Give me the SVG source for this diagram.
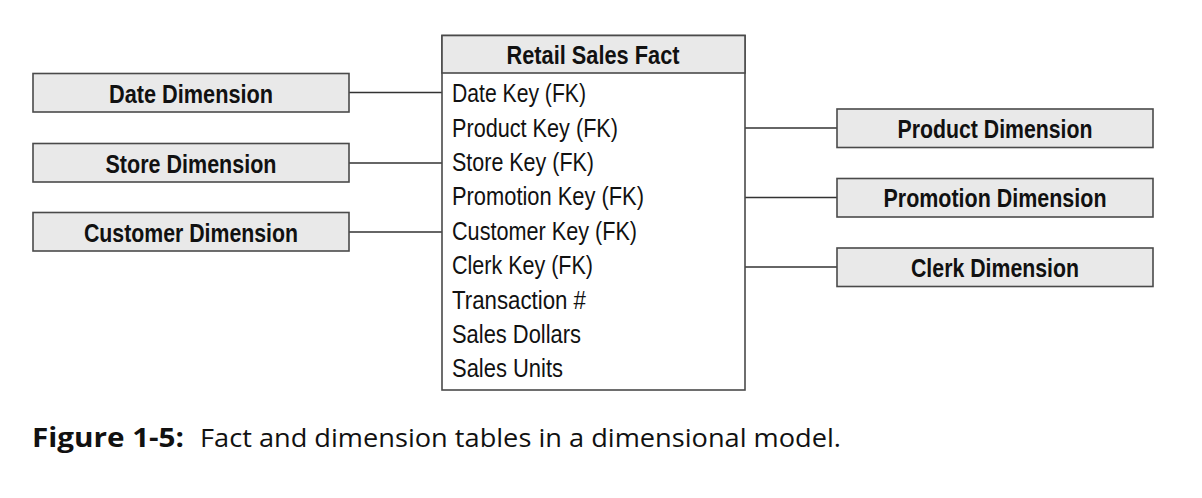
<svg xmlns="http://www.w3.org/2000/svg" width="1202" height="498" viewBox="0 0 1202 498">
<style>
.box{fill:#e9e9e9;stroke:#4a4a4a;stroke-width:1.6}
.fact{fill:#ffffff;stroke:#4a4a4a;stroke-width:1.6}
.lbl{font-family:"Liberation Sans Narrow","Liberation Sans",Arial,sans-serif;font-weight:bold;font-size:25px;fill:#111111;text-anchor:middle}
.row{font-family:"Liberation Sans Narrow","Liberation Sans",Arial,sans-serif;font-size:25.8px;fill:#111111}
.conn{stroke:#333;stroke-width:1.6;fill:none}
.cap{font-family:"Open Sans","Noto Sans",sans-serif;font-size:26px;fill:#111111}
</style>
<rect width="1202" height="498" fill="#ffffff"/>
<g id="connectors">
<line class="conn" x1="349" y1="92.5" x2="442" y2="92.5"/>
<line class="conn" x1="349" y1="163" x2="442" y2="163"/>
<line class="conn" x1="349" y1="232" x2="442" y2="232"/>
<line class="conn" x1="745" y1="128" x2="837" y2="128"/>
<line class="conn" x1="745" y1="197.5" x2="837" y2="197.5"/>
<line class="conn" x1="745" y1="267" x2="837" y2="267"/>
</g>
<g id="fact">
<rect class="fact" x="442" y="35.5" width="303" height="354.5"/>
<rect class="box" x="442" y="35.5" width="303" height="37.5"/>
<text class="lbl" x="593" y="64" textLength="173" lengthAdjust="spacingAndGlyphs">Retail Sales Fact</text>
<text class="row" x="452" y="102.3" textLength="134" lengthAdjust="spacingAndGlyphs">Date Key (FK)</text>
<text class="row" x="452" y="136.7" textLength="166" lengthAdjust="spacingAndGlyphs">Product Key (FK)</text>
<text class="row" x="452" y="171" textLength="142" lengthAdjust="spacingAndGlyphs">Store Key (FK)</text>
<text class="row" x="452" y="205.4" textLength="192" lengthAdjust="spacingAndGlyphs">Promotion Key (FK)</text>
<text class="row" x="452" y="239.8" textLength="185" lengthAdjust="spacingAndGlyphs">Customer Key (FK)</text>
<text class="row" x="452" y="274.1" textLength="141" lengthAdjust="spacingAndGlyphs">Clerk Key (FK)</text>
<text class="row" x="452" y="308.5" textLength="134" lengthAdjust="spacingAndGlyphs">Transaction #</text>
<text class="row" x="452" y="342.9" textLength="129" lengthAdjust="spacingAndGlyphs">Sales Dollars</text>
<text class="row" x="452" y="377.3" textLength="111" lengthAdjust="spacingAndGlyphs">Sales Units</text>
</g>
<g id="date-dimension">
<rect class="box" x="33" y="73.5" width="316" height="38.5"/>
<text class="lbl" x="191" y="102.5" textLength="164" lengthAdjust="spacingAndGlyphs">Date Dimension</text>
</g>
<g id="store-dimension">
<rect class="box" x="33" y="143.5" width="316" height="38.5"/>
<text class="lbl" x="191" y="172.5" textLength="171" lengthAdjust="spacingAndGlyphs">Store Dimension</text>
</g>
<g id="customer-dimension">
<rect class="box" x="33" y="212.5" width="316" height="38.5"/>
<text class="lbl" x="191" y="241.5" textLength="214" lengthAdjust="spacingAndGlyphs">Customer Dimension</text>
</g>
<g id="product-dimension">
<rect class="box" x="837" y="109" width="316" height="38.5"/>
<text class="lbl" x="995" y="137.5" textLength="195" lengthAdjust="spacingAndGlyphs">Product Dimension</text>
</g>
<g id="promotion-dimension">
<rect class="box" x="837" y="178.5" width="316" height="38.5"/>
<text class="lbl" x="995" y="207.3" textLength="223" lengthAdjust="spacingAndGlyphs">Promotion Dimension</text>
</g>
<g id="clerk-dimension">
<rect class="box" x="837" y="248" width="316" height="38.5"/>
<text class="lbl" x="995" y="276.7" textLength="168" lengthAdjust="spacingAndGlyphs">Clerk Dimension</text>
</g>
<g id="caption">
<text class="cap" x="32" y="447.3" font-weight="bold" textLength="152" lengthAdjust="spacingAndGlyphs">Figure 1-5:</text>
<text class="cap" x="200" y="447.3" textLength="641" lengthAdjust="spacingAndGlyphs">Fact and dimension tables in a dimensional model.</text>
</g>
</svg>
